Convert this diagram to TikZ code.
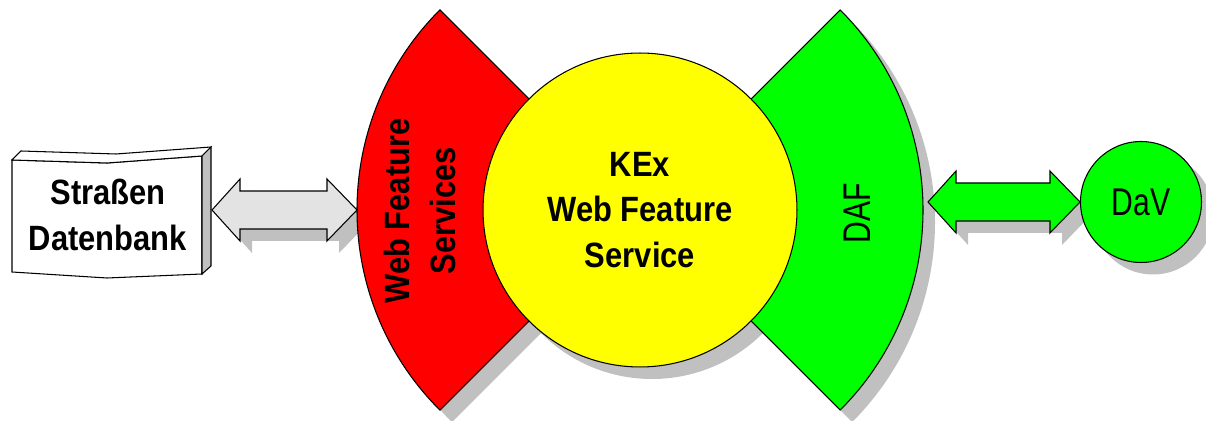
\documentclass[tikz,border=0pt]{standalone}
\usepackage{fontspec}
\setmainfont{Liberation Sans}
\newfontfamily\fatsans[FakeStretch=0.88]{Liberation Sans}
\newfontfamily\slimsans[FakeStretch=0.78]{Liberation Sans}
\usetikzlibrary{calc}
\definecolor{wfsred}{RGB}{255,0,0}
\definecolor{kexyellow}{RGB}{255,255,0}
\definecolor{dafgreen}{RGB}{0,255,0}
\definecolor{pipegray}{RGB}{227,227,227}
\definecolor{shadegray}{RGB}{192,192,192}
\pgfdeclarelayer{shadows}
\pgfsetlayers{shadows,main}

% double block arrow between two tips on one line
\newcommand{\twoway}[3][]{%
  \draw[#1] (#2) -- ++(28,-31) -- ++(0,12) -- ($(#3)+(-30,-19)$) -- ++(0,-12)
    -- (#3) -- ++(-30,31) -- ++(0,-12) -- ($(#2)+(28,19)$) -- ++(0,12) -- cycle;}

\begin{document}
\begin{tikzpicture}[x=0.02cm,y=-0.02cm,line join=miter,
  rim/.style={draw=black,line width=0.6pt},
  shade/.style={fill=shadegray,draw=none},
  bigtext/.style={align=center,font=\fatsans\bfseries\fontsize{20}{26}\selectfont},
  thintext/.style={font=\slimsans\fontsize{22}{26}\selectfont}]
  \useasboundingbox (0,0) rectangle (1206,421);

  \coordinate (hub) at (640,210);

  % the two sectors, yellow disc on top
  \draw[rim,fill=wfsred] (hub) -- ++(135:283) arc[start angle=135,end angle=225,radius=283] -- cycle;
  \draw[rim,fill=dafgreen] (hub) -- ++(-45:283) arc[start angle=-45,end angle=45,radius=283] -- cycle;
  \node[bigtext,rotate=90] (wfstext) at (420,211) {Web Feature\\Services};
  \node[thintext,rotate=90] (daftext) at (857,213) {DAF};
  \node[circle,rim,fill=kexyellow,minimum size=6.28cm,inner sep=0pt,bigtext] (kex) at (hub) {KEx\\Web Feature\\Service};

  \coordinate (wfs) at ($(hub)+(-283,0)$);
  \coordinate (daf) at (928,202);

  % database
  \draw[rim,fill=white] (12,160) -- (107,163) -- (202,156) -- (202,274) -- (107,278) -- (12,272) -- cycle;
  \draw[rim,fill=white] (12,160) -- (21,151) -- (116,154) -- (211,147) -- (202,156) -- (107,163) -- cycle;
  \draw[rim,fill=shadegray] (202,156) -- (211,147) -- (211,266) -- (202,274) -- cycle;
  \node[bigtext] (db) at (108,215) {Straßen\\Datenbank};
  \coordinate (dbport) at (212,210);

  \node[circle,rim,fill=dafgreen,minimum size=2.42cm,inner sep=0pt,thintext] (dav) at (1141,202) {DaV};

  \twoway[rim,fill=pipegray]{dbport}{wfs}
  \twoway[rim,fill=dafgreen]{daf}{dav.west}

  \begin{pgfonlayer}{shadows}
    \begin{scope}[transform canvas={shift={(12,12)}}]
      \fill[shadegray] (hub) -- ++(135:283) arc[start angle=135,end angle=225,radius=283] -- cycle;
      \fill[shadegray] (hub) -- ++(-45:283) arc[start angle=-45,end angle=45,radius=283] -- cycle;
      \fill[shadegray] (kex.center) circle[radius=157];
      \fill[shadegray] (dav.center) circle[radius=60.5];
      \twoway[shade]{dbport}{wfs}
      \twoway[shade]{daf}{dav.west}
    \end{scope}
  \end{pgfonlayer}
\end{tikzpicture}
\end{document}
